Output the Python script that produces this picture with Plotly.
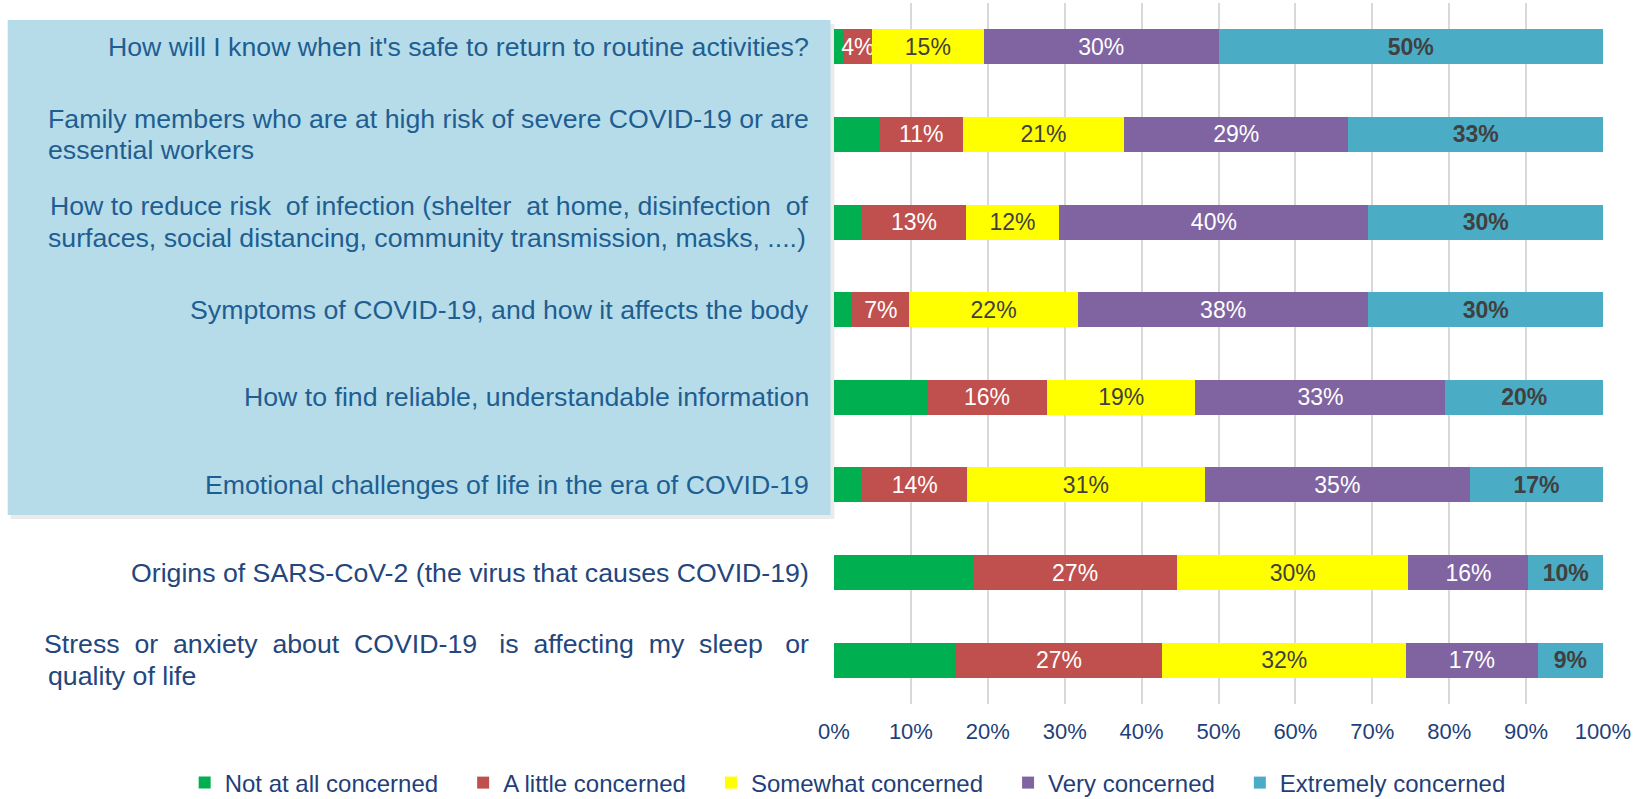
import plotly.graph_objects as go

# ---------------- data ----------------
categories = [
    "How will I know when it's safe to return to routine activities?",
    "Family members who are at high risk of severe COVID-19 or are essential workers",
    "How to reduce risk of infection (shelter at home, disinfection of surfaces, social distancing, community transmission, masks, ....)",
    "Symptoms of COVID-19, and how it affects the body",
    "How to find reliable, understandable information",
    "Emotional challenges of life in the era of COVID-19",
    "Origins of SARS-CoV-2 (the virus that causes COVID-19)",
    "Stress or anxiety about COVID-19 is affecting my sleep or quality of life",
]
category_lines = [
    ["How will I know when it's safe to return to routine activities?"],
    ["Family members who are at high risk of severe COVID-19 or are", "essential workers"],
    ["How to reduce risk of infection (shelter at home, disinfection of",
     "surfaces, social distancing, community transmission, masks, ....)"],
    ["Symptoms of COVID-19, and how it affects the body"],
    ["How to find reliable, understandable information"],
    ["Emotional challenges of life in the era of COVID-19"],
    ["Origins of SARS-CoV-2 (the virus that causes COVID-19)"],
    ["Stress or anxiety about COVID-19 is affecting my sleep or", "quality of life"],
]
highlighted = [True, True, True, True, True, True, False, False]

series_names = ["Not at all concerned", "A little concerned", "Somewhat concerned",
                "Very concerned", "Extremely concerned"]
not_at_all = [1.3, 5.9, 3.7, 2.4, 12.1, 3.7, 18.1, 15.8]
a_little = [3.6, 10.9, 13.4, 7.4, 15.6, 13.6, 26.5, 26.9]
somewhat = [14.6, 20.9, 12.2, 21.9, 19.3, 30.9, 30.1, 31.7]
very = [30.5, 29.2, 40.2, 37.8, 32.5, 34.5, 15.6, 17.1]
extremely = [50.0, 33.1, 30.5, 30.5, 20.5, 17.3, 9.7, 8.5]

not_at_all_lbl = ["", "", "", "", "", "", "", ""]
a_little_lbl = ["4%", "11%", "13%", "7%", "16%", "14%", "27%", "27%"]
somewhat_lbl = ["15%", "21%", "12%", "22%", "19%", "31%", "30%", "32%"]
very_lbl = ["30%", "29%", "40%", "38%", "33%", "35%", "16%", "17%"]
extremely_lbl = ["50%", "33%", "30%", "30%", "20%", "17%", "10%", "9%"]

x_ticks = [0, 10, 20, 30, 40, 50, 60, 70, 80, 90, 100]
x_ticktext = ["0%", "10%", "20%", "30%", "40%", "50%", "60%", "70%", "80%", "90%", "100%"]

# ---------------- style ----------------
FONT = "Liberation Sans, Arial, sans-serif"
colors = ["#00B050", "#C0504D", "#FFFF00", "#8064A2", "#4BACC6"]
text_colors = ["#FFFFFF", "#FFFFFF", "#404040", "#FFFFFF", "#404040"]
text_weights = ["normal", "normal", "normal", "normal", "bold"]
# extra word gaps used to imitate the justified first line of wrapped labels
justify_extra = [0, 0, 3, 0, 0, 0, 0, 11]
NBSP = "\u00a0"

values = [not_at_all, a_little, somewhat, very, extremely]
labels = [not_at_all_lbl, a_little_lbl, somewhat_lbl, very_lbl, extremely_lbl]

fig = go.Figure()
for name, vals, lbl, col, tcol, tw in zip(series_names, values, labels, colors,
                                           text_colors, text_weights):
    fig.add_trace(go.Bar(
        y=categories, x=vals, name=name + NBSP * 3, orientation="h",
        marker=dict(color=col, line=dict(width=0)),
        text=lbl, textposition="inside", insidetextanchor="middle",
        textangle=0, constraintext="none",
        textfont=dict(family=FONT, size=23, color=tcol, weight=tw),
        hovertemplate="%{y}<br>" + name + ": %{x}%<extra></extra>",
    ))

W, H = 1646, 799
ml, mr, mt, mb = 833.5, 43.3, 3, 95
pw, ph = W - ml - mr, H - mt - mb


def px_x(p):
    return (p - ml) / pw


def px_y(p):
    return (H - mb - p) / ph


def widen(line, n):
    if n <= 0:
        return line
    words = line.split(" ")
    gaps = len(words) - 1
    out = words[0]
    for i, w in enumerate(words[1:]):
        k = (i + 1) * n // gaps - i * n // gaps
        out += " " + NBSP * k + w
    return out


shapes = [
    dict(type="rect", xref="paper", yref="paper",
         x0=px_x(10), x1=px_x(834), y0=px_y(519), y1=px_y(24),
         fillcolor="rgba(0,0,0,0.08)", line=dict(width=0), layer="below"),
    dict(type="rect", xref="paper", yref="paper",
         x0=px_x(7), x1=px_x(830), y0=px_y(515), y1=px_y(20),
         fillcolor="#B6DCEA", line=dict(width=0), layer="below"),
]

annotations = []
LABEL_SIZE = 26.7
for cat, lines, hl, extra in zip(categories, category_lines, highlighted, justify_extra):
    color = "#1F5E91" if hl else "#23467D"
    if len(lines) == 1:
        annotations.append(dict(
            xref="paper", yref="y", x=px_x(810), y=cat,
            xanchor="right", yanchor="middle", text=lines[0], showarrow=False,
            font=dict(family=FONT, size=LABEL_SIZE, color=color)))
    else:
        annotations.append(dict(
            xref="paper", yref="y", x=px_x(810), y=cat, yshift=15.7,
            xanchor="right", yanchor="middle", text=widen(lines[0], extra),
            showarrow=False, font=dict(family=FONT, size=LABEL_SIZE, color=color)))
        annotations.append(dict(
            xref="paper", yref="y", x=px_x(45), y=cat, yshift=-15.7,
            xanchor="left", yanchor="middle", text=lines[1],
            showarrow=False, font=dict(family=FONT, size=LABEL_SIZE, color=color)))

fig.update_layout(
    width=W, height=H,
    margin=dict(l=ml, r=mr, t=mt, b=mb, pad=0, autoexpand=False),
    barmode="stack", bargap=0.6,
    plot_bgcolor="white", paper_bgcolor="white",
    font=dict(family=FONT, color="#1F3F7A"),
    xaxis=dict(range=[0, 100], tickvals=x_ticks, ticktext=x_ticktext,
               showgrid=True, gridcolor="#D9D9D9", gridwidth=2,
               zeroline=False, showline=False,
               ticks="outside", ticklen=8, tickcolor="rgba(0,0,0,0)",
               tickfont=dict(family=FONT, size=22, color="#1F3F7A")),
    yaxis=dict(autorange="reversed", showticklabels=False, showgrid=False,
               zeroline=False, showline=False, categoryorder="array",
               categoryarray=categories),
    legend=dict(orientation="h", x=px_x(184), xanchor="left",
                y=px_y(783), yanchor="middle",
                traceorder="normal", bgcolor="rgba(0,0,0,0)",
                font=dict(family=FONT, size=24, color="#1F3F7A"),
                itemclick=False, itemdoubleclick=False),
    shapes=shapes,
    annotations=annotations,
    showlegend=True,
)

fig.write_html("out.html", config={"displayModeBar": False},
               post_script="document.body.style.margin='0';")
